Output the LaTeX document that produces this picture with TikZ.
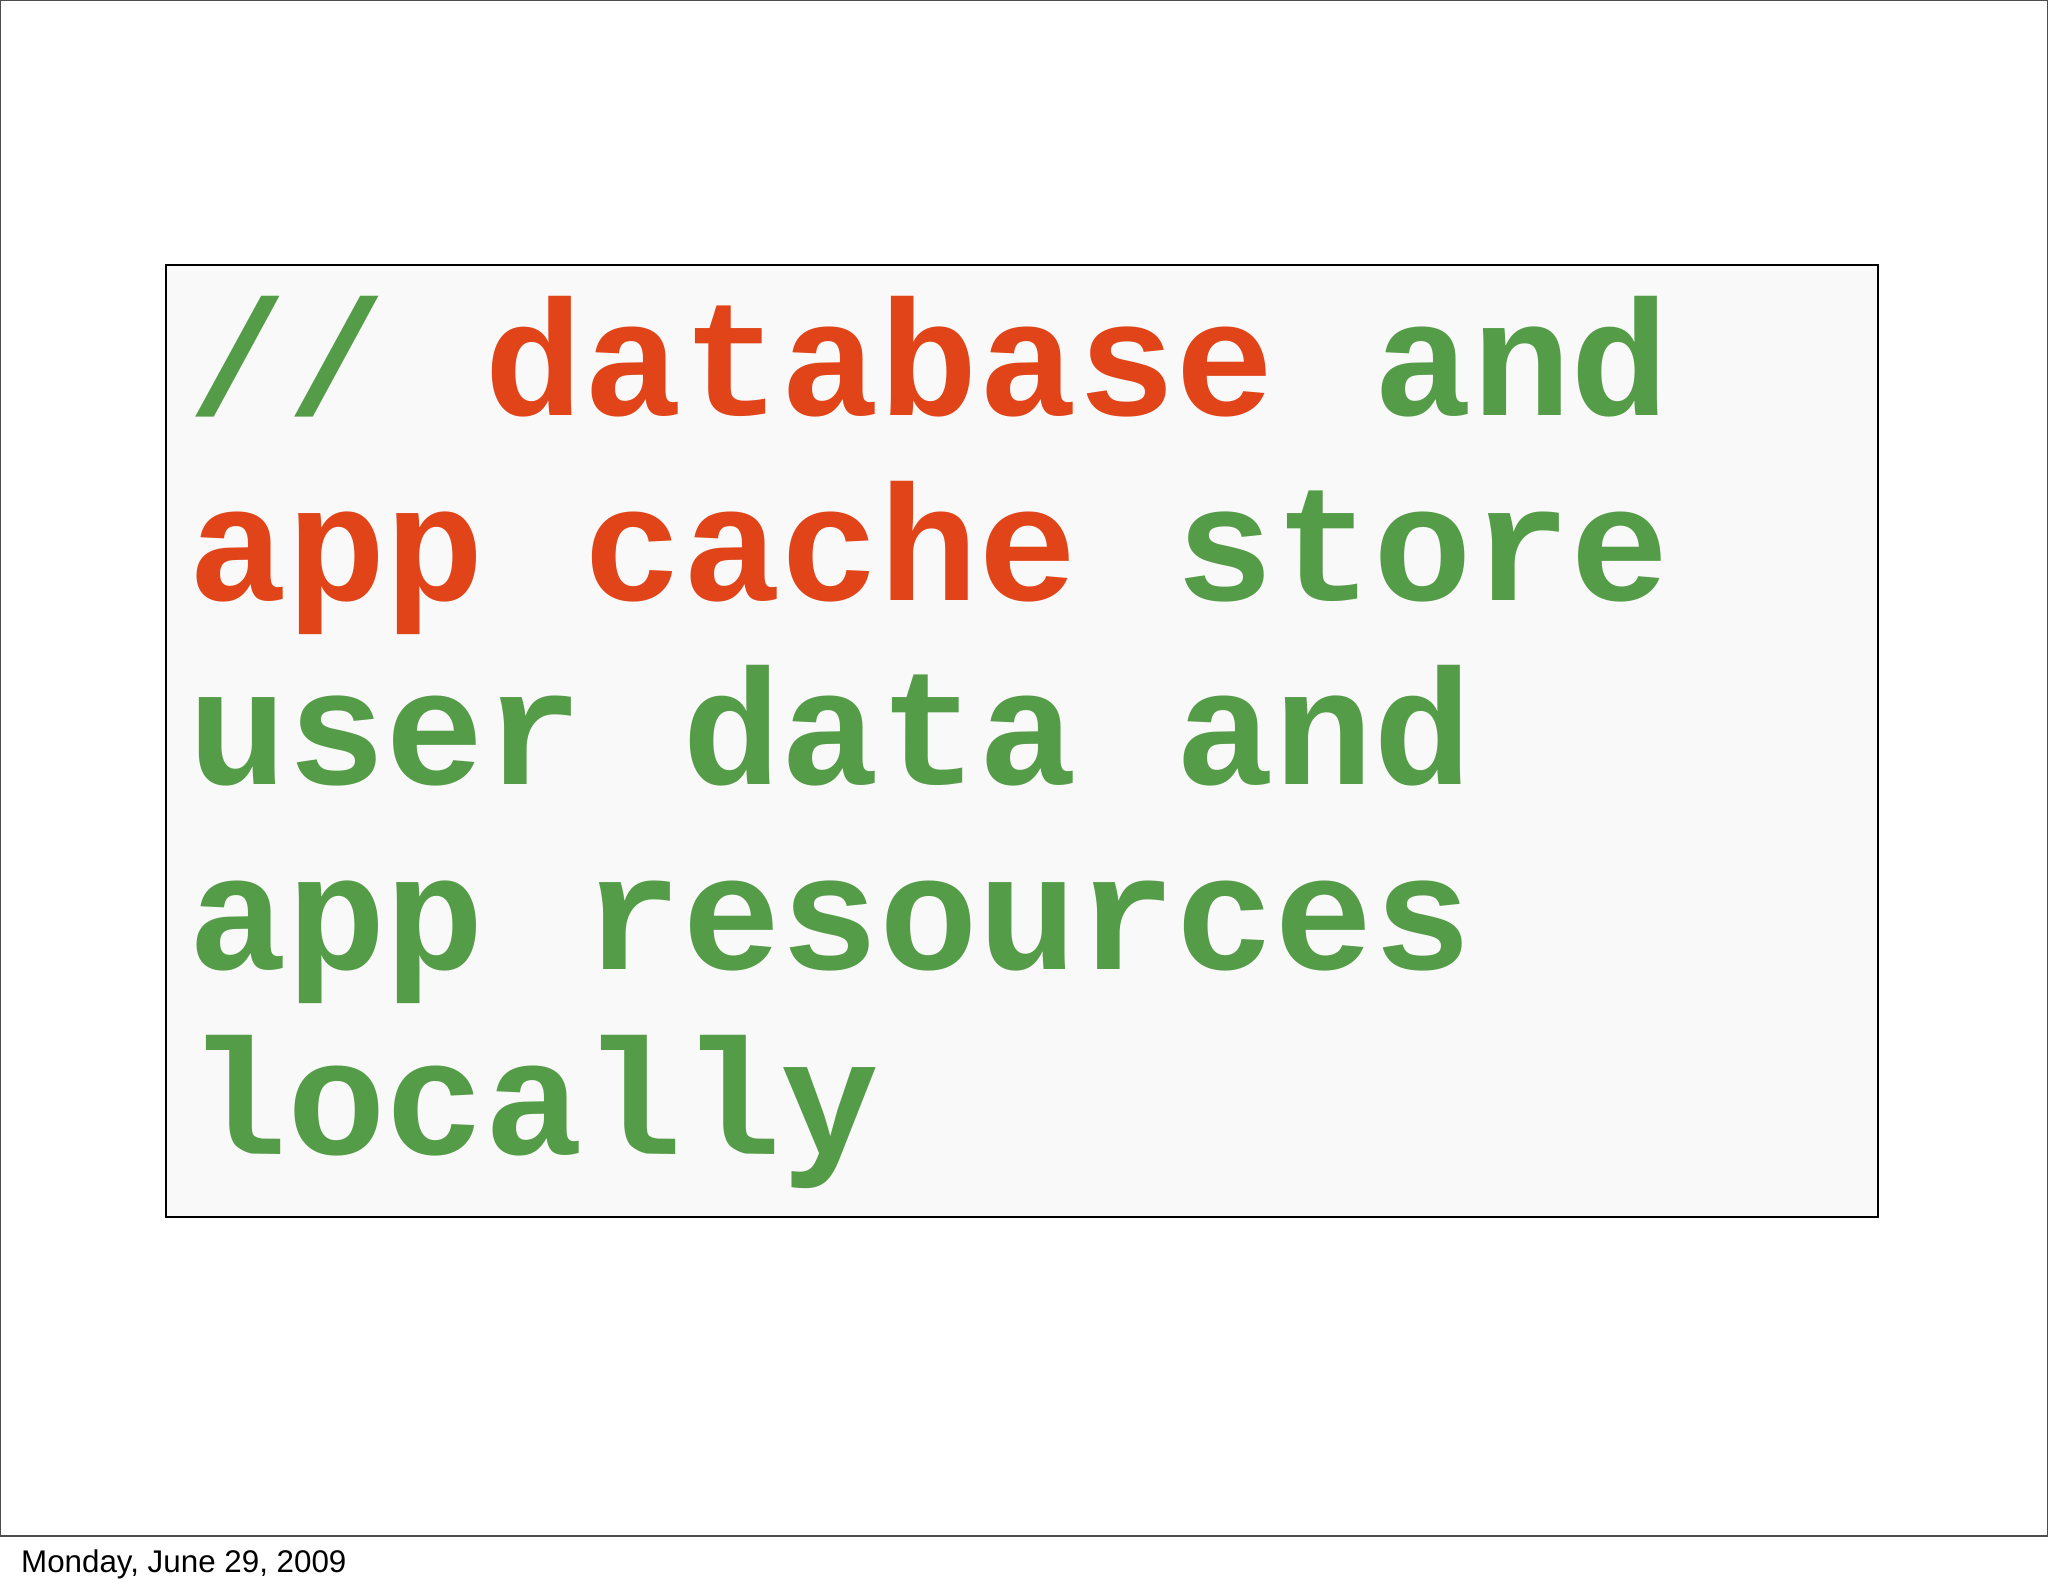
\documentclass[tikz,border=0pt]{standalone}
\usepackage{fontspec}
\setmainfont{Liberation Sans}
\newfontfamily\codefont{Liberation Mono}
\definecolor{cred}{HTML}{E04418}
\definecolor{cgreen}{HTML}{559C48}
\definecolor{boxfill}{HTML}{F9F9F9}
\begin{document}
\begin{tikzpicture}[x=1pt,y=1pt,
  codeline/.style={anchor=base west,inner sep=0pt,font=\codefont\bfseries\fontsize{126}{126}\selectfont}]
\useasboundingbox (0,0) rectangle (1568,-1220);
\fill[white] (0,0) rectangle (1568,-1220);
\draw[line width=1pt,black!70] (0.5,-0.5) -- (1567.5,-0.5) -- (1567.5,-1176) -- (0.5,-1176) -- cycle;
\node[name=footer,anchor=base west,inner sep=0pt,font=\fontsize{24}{24}\selectfont] at (16,-1204) {Monday, June 29, 2009};
\draw[line width=1.3pt,fill=boxfill] (127,-203) rectangle (1438,-932);
\node[codeline,name=l1] at (144,-318) {\textcolor{cgreen}{//} \textcolor{cred}{database} \textcolor{cgreen}{and}};
\node[codeline,name=l2] at (144,-460) {\textcolor{cred}{app cache} \textcolor{cgreen}{store}};
\node[codeline,name=l3] at (144,-601) {\textcolor{cgreen}{user data and}};
\node[codeline,name=l4] at (144,-742) {\textcolor{cgreen}{app resources}};
\node[codeline,name=l5] at (144,-884) {\textcolor{cgreen}{locally}};
\end{tikzpicture}
\end{document}
